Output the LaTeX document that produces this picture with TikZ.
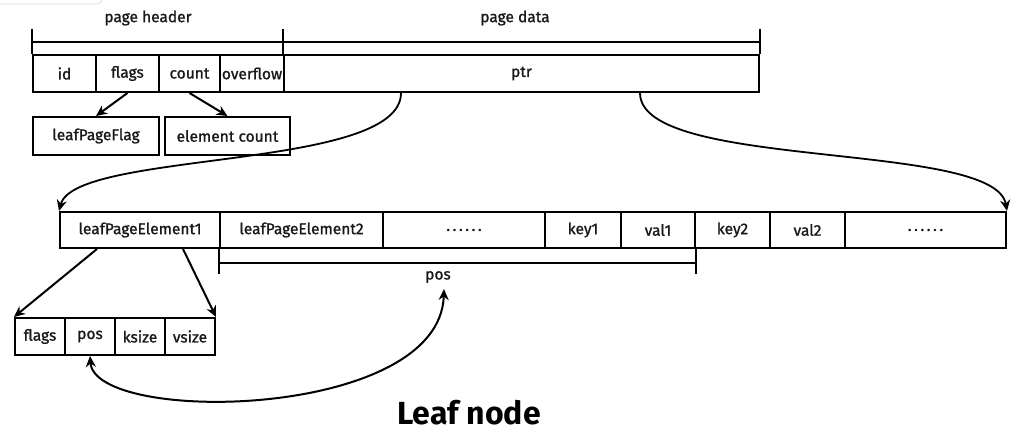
\documentclass[tikz,border=0pt]{standalone}
\usepackage{fontspec}
\setmainfont{Fira Sans}[FakeBold=1.2]
\newfontfamily\titlefont{Fira Sans}
\newcommand{\sixdots}{.\kern2.6pt.\kern2.6pt.\kern2.6pt.\kern2.6pt.\kern2.6pt.}
\usetikzlibrary{arrows.meta,calc}
\tikzset{
  cell/.style={draw, line width=2pt, inner sep=0pt, font=\fontsize{15.5}{17}\selectfont, text=black!90},
  lbl/.style={inner sep=0pt, font=\fontsize{15.5}{17}\selectfont, text=black!90},
  bracket/.style={line width=2pt},
  arr/.style={line width=2pt, -{Stealth[length=11pt,width=10pt]}},
  darr/.style={line width=2pt, {Stealth[length=11pt,width=10pt]}-{Stealth[length=11pt,width=10pt]}},
  curve/.style={line width=1.8pt, -{Stealth[length=11pt,width=10pt]}}
}
\begin{document}
\begin{tikzpicture}[x=1pt,y=-1pt]
\useasboundingbox[fill=white] (0,0) rectangle (1025,438);
\begin{scope}
\clip (0,0) rectangle (1025,438);
\draw[gray!25, line width=0.8pt, rounded corners=5pt] (-10,-20) rectangle (102,4);
\end{scope}
% top row
\node[cell, minimum width=63pt, minimum height=37pt] (id) at (64.5,73.5) {id};
\node[cell, minimum width=63pt, minimum height=37pt] (flags) at (127.5,73.5) {flags};
\node[cell, minimum width=61pt, minimum height=37pt] (count) at (189.5,73.5) {count};
\node[cell, minimum width=64pt, minimum height=37pt] (overflow) at (252,73.5) {overflow};
\node[cell, minimum width=475pt, minimum height=37pt] (ptr) at (521.5,73.5) {ptr};
% header brackets
\node[lbl] (ph) at (148,18) {page header};
\node[lbl] (pd) at (515,18) {page data};
\draw[bracket] (id.north west) -- ++(0,-25);
\draw[bracket] (ptr.north west) -- ++(0,-25);
\draw[bracket] (ptr.north east) -- ++(0,-25);
\draw[bracket] ($(id.north west)+(0,-12)$) -- ($(ptr.north east)+(0,-12)$);
% flag / count boxes
\node[cell, minimum width=126pt, minimum height=38pt] (lpf) at (96,136) {leafPageFlag};
\node[cell, minimum width=125pt, minimum height=38pt] (ec) at (227.5,136) {element count};
\draw[arr] (flags.south) -- (lpf.north);
\draw[arr] (count.south) -- (ec.north);
% middle row
\node[cell, minimum width=160pt, minimum height=36pt] (e1) at (140,230) {leafPageElement1};
\node[cell, minimum width=163pt, minimum height=36pt] (e2) at (301.5,230) {leafPageElement2};
\node[cell, minimum width=162pt, minimum height=36pt] (d1) at (464,230) {\sixdots};
\node[cell, minimum width=76pt, minimum height=36pt] (key1) at (583,230) {key1};
\node[cell, minimum width=74pt, minimum height=36pt] (val1) at (658,230) {val1};
\node[cell, minimum width=75pt, minimum height=36pt] (key2) at (732.5,230) {key2};
\node[cell, minimum width=75pt, minimum height=36pt] (val2) at (807.5,230) {val2};
\node[cell, minimum width=161pt, minimum height=36pt] (d2) at (925.5,230) {\sixdots};
% ptr curves
\draw[curve] ($(ptr.south west)+(118,0)$) .. controls ($(ptr.south west)+(118,78)$) and (75,150) .. (e1.north west);
\draw[curve] ($(ptr.south east)+(-120,0)$) .. controls ($(ptr.south east)+(-120,78)$) and (995,140) .. (d2.north east);
% pos bracket
\draw[bracket] (e2.south west) -- ++(0,25);
\draw[bracket] (val1.south east) -- ++(0,25);
\draw[bracket] ($(e2.south west)+(0,14)$) -- ($(val1.south east)+(0,14)$);
\node[lbl] (poslbl) at (438,277) {pos};
% bottom row
\node[cell, minimum width=50pt, minimum height=37pt] (bflags) at (40,336.5) {flags};
\node[cell, minimum width=50pt, minimum height=37pt] (bpos) at (90,336.5) {pos};
\node[cell, minimum width=50pt, minimum height=37pt] (bksize) at (140,336.5) {ksize};
\node[cell, minimum width=50pt, minimum height=37pt] (bvsize) at (190,336.5) {vsize};
\draw[arr] ($(e1.south west)+(38,0)$) -- (bflags.north west);
\draw[arr] ($(e1.south east)+(-38,0)$) -- (bvsize.north east);
\draw[darr] (bpos.south) .. controls (95,425) and (440,420) .. ($(poslbl.south)+(6,6)$);
% title
\node[inner sep=0pt, font=\titlefont\fontsize{32}{36}\selectfont\bfseries] (title) at (469,413) {Leaf node};
\end{tikzpicture}
\end{document}
